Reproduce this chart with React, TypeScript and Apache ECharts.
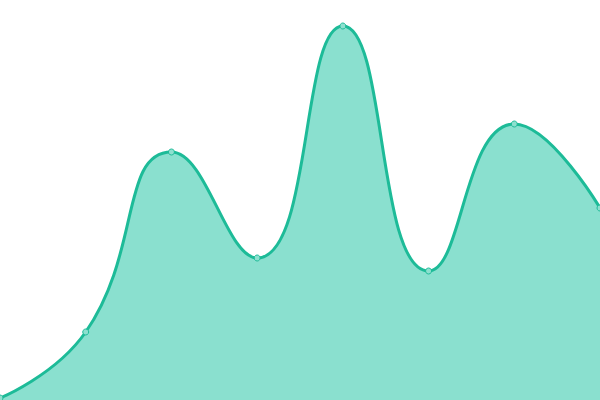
import React, { useEffect, useRef } from 'react';
import * as echarts from 'echarts';

const categories = ['1', '2', '3', '4', '5', '6', '7', '8'];
const values = [0.5, 17, 62, 35.5, 93.5, 32.25, 69, 48];

const App: React.FC = () => {
    const chartRef = useRef<HTMLDivElement>(null);

    useEffect(() => {
        if (!chartRef.current) return;
        const myChart = echarts.init(chartRef.current, null, { renderer: 'svg' });
        const option = {
            animation: false,
            grid: { left: 0, right: 0, top: 0, bottom: 0 },
            xAxis: {
                type: 'category',
                data: categories,
                boundaryGap: false,
                show: false
            },
            yAxis: {
                type: 'value',
                min: 0,
                max: 100,
                show: false
            },
            series: [
                {
                    type: 'line',
                    data: values,
                    smooth: true,
                    symbol: 'circle',
                    symbolSize: 6,
                    lineStyle: { color: '#1dbb98', width: 3 },
                    itemStyle: { color: '#8de0cf', borderColor: '#1dbb98', borderWidth: 1 },
                    areaStyle: { color: '#8ae0cf', opacity: 1 }
                }
            ]
        };
        myChart.setOption(option);
        return () => {
            myChart.dispose();
        };
    }, []);

    return (
        <div
            ref={chartRef}
            style={{ position: 'fixed', left: 0, top: 0, width: '600px', height: '400px' }}
        />
    );
};

export default App;
